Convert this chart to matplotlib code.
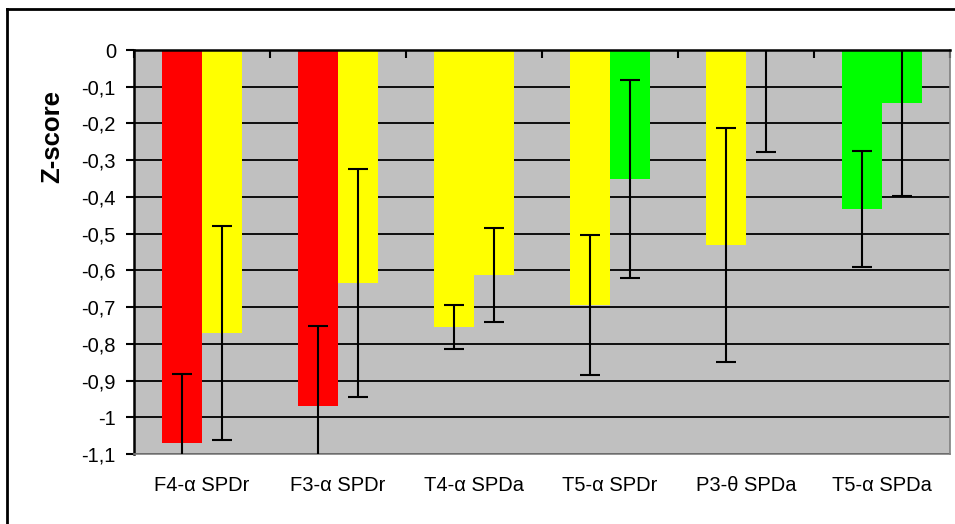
import numpy as np
import matplotlib.pyplot as plt
from matplotlib.lines import Line2D

plt.rcParams['font.family'] = ['Liberation Sans', 'DejaVu Sans']

categorias = ['F4-α SPDr', 'F3-α SPDr', 'T4-α SPDa', 'T5-α SPDr', 'P3-θ SPDa', 'T5-α SPDa']

# primera y segunda barra de cada grupo
valores1 = [-1.07, -0.97, -0.754, -0.694, -0.531, -0.433]
errores1 = [0.187, 0.218, 0.06, 0.19, 0.318, 0.158]
colores1 = ['#FF0000', '#FF0000', '#FFFF00', '#FFFF00', '#FFFF00', '#00FF00']

valores2 = [-0.77, -0.634, -0.613, -0.351, 0.0, -0.144]
errores2 = [0.292, 0.31, 0.128, 0.27, 0.279, 0.254]
colores2 = ['#FFFF00', '#FFFF00', '#FFFF00', '#00FF00', '#FFFF00', '#00FF00']

yticks = [0, -0.1, -0.2, -0.3, -0.4, -0.5, -0.6, -0.7, -0.8, -0.9, -1.0, -1.1]

fig = plt.figure(figsize=(9.55, 5.24), dpi=100)
ax = fig.add_axes([134 / 955, 1 - 454 / 524, 816 / 955, 404 / 524])
ax.set_facecolor('#C0C0C0')

x = np.arange(len(categorias))
ancho = 0.294

ax.bar(x - ancho / 2, valores1, ancho, color=colores1, zorder=2)
ax.bar(x + ancho / 2, valores2, ancho, color=colores2, zorder=2)
ax.errorbar(x - ancho / 2, valores1, yerr=errores1, fmt='none', ecolor='black',
            elinewidth=1.5, capsize=7, capthick=1.5, zorder=3)
ax.errorbar(x + ancho / 2, valores2, yerr=errores2, fmt='none', ecolor='black',
            elinewidth=1.5, capsize=7, capthick=1.5, zorder=3)

ax.set_xlim(-0.5, len(categorias) - 0.5)
ax.set_ylim(-1.1, 0)

# rejilla negra
ax.set_yticks(yticks)
ax.set_yticklabels([('%g' % v).replace('.', ',') for v in yticks], fontsize=14.5)
ax.yaxis.grid(True, color='black', linewidth=1.3, zorder=1)
ax.set_axisbelow(True)
ax.tick_params(axis='y', direction='out', length=6, width=1.5, pad=7)

ax.set_xticks(x)
ax.set_xticklabels(categorias, fontsize=14.5)
ax.tick_params(axis='x', which='major', length=0, pad=16)
ax.set_xticks(np.arange(len(categorias) + 1) - 0.5, minor=True)
ax.tick_params(axis='x', which='minor', top=True, bottom=False, direction='in',
               length=6, width=1.5)

ax.spines['top'].set_color('black')
ax.spines['top'].set_linewidth(1.8)
ax.spines['left'].set_color('black')
ax.spines['left'].set_linewidth(1.8)
ax.spines['right'].set_color('#808080')
ax.spines['bottom'].set_color('#808080')
ax.spines['right'].set_linewidth(1.2)
ax.spines['bottom'].set_linewidth(1.2)

ax.set_ylabel('Z-score', fontsize=18.5, fontweight='bold')
ax.yaxis.set_label_coords(-0.1005, 0.785)
ax.yaxis.label.set_va('center')

# marco exterior
fig.add_artist(Line2D([7 / 955, 7 / 955], [0, 1 - 9 / 524], color='black', linewidth=2))
fig.add_artist(Line2D([7 / 955, 1], [1 - 9 / 524, 1 - 9 / 524], color='black', linewidth=2))

fig.savefig('out.png', dpi=100)
